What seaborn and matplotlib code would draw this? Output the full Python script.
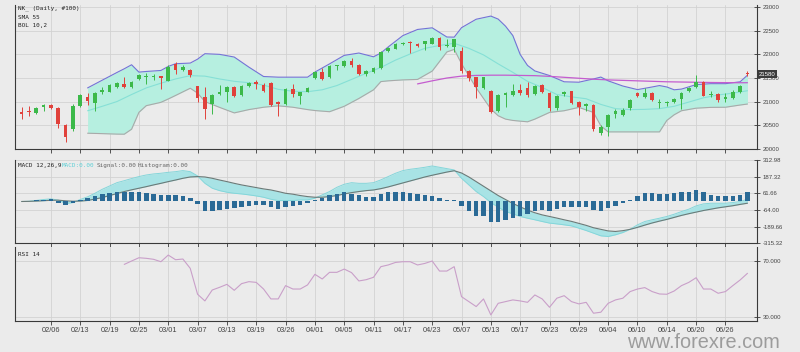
import numpy as np
import pandas as pd
import seaborn as sns
import matplotlib
matplotlib.use("Agg")
import matplotlib.pyplot as plt

# x tick labels (one every 4 bars)
date_labels = ["02/06", "02/13", "02/19", "02/25", "03/01", "03/07", "03/13", "03/19",
               "03/26", "04/01", "04/05", "04/11", "04/17", "04/23", "05/07", "05/13",
               "05/17", "05/23", "05/29", "06/04", "06/10", "06/14", "06/20", "06/26"]
date_pos = [4, 8, 12, 16, 20, 24, 28, 32, 36, 40, 44, 48,
            52, 56, 60, 64, 68, 72, 76, 80, 84, 88, 92, 96]

# daily candles
opens = [20785, 20792, 20756, 20891, 20927, 20863, 20507, 20414, 20899, 21105,
         20970, 21197, 21212, 21304, 21375, 21304, 21482, 21518, 21511, 21539,
         21446, 21788, 21660, 21674, 21326, 21105, 20948, 21162, 21212, 21319,
         21148, 21326, 21411, 21361, 21390, 20998, 20948, 21269, 21126, 21212,
         21496, 21625, 21518, 21753, 21746, 21860, 21781, 21589, 21625, 21710,
         22073, 22123, 22223, 22266, 22230, 22230, 22230, 22351, 22180, 22159,
         22066, 21639, 21518, 21290, 21226, 20806, 21141, 21148, 21254, 21283,
         21162, 21361, 21183, 20856, 21162, 21219, 20984, 20898, 20927, 20343,
         20471, 20735, 20713, 20856, 21176, 21105, 21176, 20970, 20970, 20984,
         21055, 21233, 21304, 21411, 21141, 21162, 21055, 21069, 21212, 21610]
highs = [20877, 20898, 20877, 20948, 20948, 20877, 20521, 20948, 21162, 21183,
         21197, 21304, 21375, 21425, 21518, 21447, 21589, 21610, 21589, 21553,
         21767, 21838, 21767, 21696, 21340, 21304, 21162, 21354, 21340, 21340,
         21361, 21411, 21461, 21390, 21411, 21020, 21290, 21375, 21212, 21304,
         21646, 21717, 21767, 21781, 21874, 21931, 21803, 21660, 21731, 22073,
         22159, 22244, 22266, 22287, 22244, 22287, 22372, 22372, 22322, 22337,
         22159, 21660, 21532, 21532, 21247, 21162, 21197, 21375, 21375, 21411,
         21361, 21375, 21197, 21148, 21233, 21233, 21020, 20970, 20948, 20500,
         20735, 20842, 20856, 21055, 21197, 21283, 21212, 21055, 21020, 21069,
         21212, 21304, 21568, 21432, 21233, 21183, 21183, 21254, 21361, 21639]
lows = [20628, 20699, 20735, 20806, 20841, 20450, 20144, 20379, 20877, 20927,
        20806, 21162, 21197, 21290, 21283, 21290, 21468, 21375, 21468, 21269,
        21432, 21589, 21639, 21518, 20990, 20628, 20735, 21141, 20984, 21091,
        21126, 21304, 21269, 21197, 20898, 20685, 20927, 21091, 20948, 21197,
        21482, 21461, 21504, 21660, 21731, 21731, 21568, 21553, 21610, 21696,
        22052, 22109, 22208, 22038, 22159, 22102, 22216, 22102, 22159, 22052,
        21610, 21447, 21069, 21269, 20756, 20770, 20877, 21126, 21148, 21091,
        21148, 21176, 20806, 20827, 21126, 20948, 20713, 20806, 20379, 20286,
        20272, 20642, 20699, 20827, 21091, 21077, 21020, 20856, 20898, 20970,
        20842, 21212, 21283, 21112, 21091, 20998, 20998, 21055, 21183, 21553]
closes = [20735, 20770, 20856, 20934, 20863, 20521, 20258, 20899, 21141, 21020,
          21183, 21247, 21354, 21404, 21304, 21425, 21568, 21553, 21539, 21496,
          21731, 21660, 21731, 21568, 21070, 20842, 21141, 21212, 21304, 21126,
          21340, 21397, 21375, 21219, 20927, 20941, 21269, 21162, 21197, 21290,
          21625, 21482, 21746, 21767, 21860, 21767, 21589, 21639, 21710, 22052,
          22144, 22230, 22251, 22251, 22173, 22280, 22351, 22159, 22208, 22322,
          21639, 21504, 21304, 21518, 20784, 21141, 21183, 21233, 21183, 21148,
          21340, 21197, 20856, 21126, 21212, 20970, 20877, 20948, 20414, 20471,
          20713, 20806, 20827, 21034, 21112, 21176, 21041, 20998, 20998, 21055,
          21183, 21283, 21411, 21126, 21162, 21034, 21091, 21197, 21340, 21580]

# Bollinger 10,2 band, read at these bars
band_idx = [9, 11, 13, 14, 15, 16, 17, 19, 20, 21, 23, 24, 25, 27, 29, 31, 33, 35, 37, 39,
            40, 42, 44, 46, 48, 49, 50, 52, 54, 56, 58, 59, 60, 62, 64, 65, 66, 67, 68, 69,
            70, 72, 74, 76, 78, 79, 80, 82, 84, 86, 87, 88, 89, 90, 92, 94, 96, 98, 99]
bol_upper = [21290, 21454, 21617, 21696, 21781, 21625, 21639, 21660, 21746, 21803,
             21817, 21900, 22016, 22002, 21945, 21731, 21532, 21518, 21518, 21518,
             21625, 21800, 21980, 22030, 21950, 22030, 22159, 22400, 22530, 22565,
             22370, 22367, 22568, 22747, 22814, 22750, 22600, 22400, 22000, 21767,
             21650, 21553, 21420, 21411, 21480, 21520, 21440, 21330, 21254, 21310,
             21340, 21310, 21250, 21265, 21360, 21380, 21380, 21420, 21560]
bol_lower = [20329, 20320, 20310, 20308, 20414, 20771, 20913, 20984, 21055, 21130,
             21283, 21180, 21000, 20877, 20760, 20830, 20880, 20910, 20880, 20830,
             20810, 20785, 20900, 21066, 21250, 21424, 21440, 21460, 21470, 21647,
             22053, 22107, 21804, 21291, 20842, 20699, 20628, 20600, 20585, 20571,
             20628, 20770, 20806, 20877, 20770, 20485, 20357, 20357, 20357, 20357,
             20357, 20600, 20720, 20806, 20860, 20877, 20880, 20927, 20948]
mid_idx = [9, 11, 13, 15, 17, 19, 21, 23, 25, 27, 29, 31, 33, 35, 37, 39, 41, 43, 45, 47,
           49, 51, 53, 55, 57, 59, 61, 63, 65, 67, 69, 71, 73, 75, 77, 79, 81, 83, 85, 87,
           89, 91, 93, 95, 97, 99]
bol_mid = [20805, 20900, 21000, 21150, 21290, 21390, 21480, 21550, 21540, 21480,
           21430, 21400, 21350, 21260, 21220, 21210, 21250, 21340, 21470, 21600,
           21724, 21880, 22010, 22130, 22190, 22237, 22130, 21990, 21800, 21620,
           21430, 21300, 21150, 21100, 21060, 20940, 20850, 20830, 20835, 20850,
           20900, 20990, 21080, 21140, 21180, 21230]

# SMA 55
sma_idx = [54, 56, 58, 60, 62, 64, 66, 68, 70, 72, 74, 76, 78, 80, 82, 84, 86, 88, 90, 92,
           94, 96, 98, 99]
sma55 = [21375, 21440, 21500, 21540, 21555, 21560, 21560, 21555, 21550, 21535,
         21515, 21495, 21475, 21460, 21450, 21440, 21430, 21420, 21415, 21410,
         21405, 21402, 21400, 21400]

# MACD 12,26,9
macd_line = [0, 2, 8, 15, 20, 10, -15, -8, 15, 35,
             62, 92, 117, 142, 157, 173, 188, 200, 208, 213,
             220, 225, 233, 225, 193, 137, 100, 82, 70, 62,
             57, 50, 42, 32, 17, 7, 7, 7, 12, 12,
             25, 50, 75, 107, 130, 142, 137, 137, 142, 163,
             188, 213, 233, 243, 250, 258, 268, 258, 248, 238,
             175, 125, 75, 37, -8, -43, -76, -93, -113, -126,
             -138, -151, -163, -169, -176, -184, -201, -219, -239, -259,
             -264, -251, -234, -209, -176, -151, -138, -126, -113, -96,
             -76, -58, -33, -18, -13, -13, -13, -8, 0, 17]
macd_signal = [0, 1, 3, 6, 9, 10, 5, 2, 3, 8,
               18, 30, 45, 60, 75, 88, 100, 112, 125, 137,
               150, 162, 175, 185, 188, 185, 175, 162, 150, 137,
               125, 115, 105, 95, 87, 75, 62, 55, 45, 37,
               32, 32, 37, 45, 57, 67, 75, 82, 87, 97,
               110, 125, 140, 155, 170, 185, 198, 210, 222, 232,
               215, 185, 150, 115, 80, 45, 15, -15, -40, -65,
               -85, -101, -113, -125, -138, -150, -165, -180, -198, -210,
               -222, -226, -220, -210, -195, -178, -162, -148, -135, -120,
               -105, -92, -80, -68, -58, -48, -40, -32, -22, -13]
macd_hist = [0, 5, 15, 15, 18, -12, -30, -15, 15, 28,
             43, 53, 65, 70, 70, 68, 68, 65, 55, 48,
             50, 48, 40, 23, -20, -68, -68, -63, -58, -50,
             -38, -33, -25, -25, -38, -58, -43, -33, -25, -13,
             15, 28, 48, 60, 68, 60, 48, 35, 35, 55,
             68, 68, 68, 65, 55, 48, 43, 28, 15, 12,
             -33, -75, -113, -113, -155, -155, -143, -125, -113, -93,
             -75, -63, -75, -58, -38, -38, -38, -38, -63, -70,
             -50, -33, -13, 12, 43, 63, 63, 55, 55, 63,
             68, 70, 83, 70, 50, 43, 38, 43, 50, 68]
macd_ticks = [-315.32, -189.66, -64.00, 61.66, 187.32, 312.98]

# RSI 14 (starts at bar 14)
rsi = [67.4, 69.8, 72.1, 71.7, 71.0, 69.3, 74.0, 70.7, 71.2, 64.6,
       46.3, 41.6, 49.3, 51.2, 53.3, 49.1, 53.8, 55.2, 54.7, 50.0,
       43.0, 43.0, 52.4, 50.0, 50.0, 52.9, 60.4, 57.1, 61.8, 61.8,
       64.1, 61.6, 55.7, 56.6, 58.3, 65.8, 67.0, 68.8, 69.3, 69.3,
       67.0, 68.1, 69.8, 62.7, 62.7, 65.8, 44.6, 41.1, 37.6, 43.0,
       31.7, 39.9, 41.1, 42.3, 41.6, 40.6, 45.8, 43.0, 37.1, 43.5,
       45.3, 41.1, 39.5, 40.6, 32.9, 33.6, 39.9, 42.3, 43.5, 48.2,
       50.0, 51.0, 48.2, 46.5, 46.3, 48.6, 52.4, 54.7, 58.0, 50.0,
       50.0, 47.0, 48.2, 52.4, 56.4, 61.1]
rsi_ticks = [30, 70]

bg = "#ebebeb"
sns.set_theme(style="white", rc={"axes.facecolor": bg, "figure.facecolor": bg})
plt.rcParams["font.family"] = ["Liberation Sans", "DejaVu Sans"]

df = pd.DataFrame({"open": opens, "high": highs, "low": lows, "close": closes})
df["idx"] = df.index
rsi_idx = list(range(14, 14 + len(rsi)))

fig = plt.figure(figsize=(8, 3.52), dpi=100)


def panel(top, bottom):
    # panel placed in pixel rows of the 800x352 picture
    return fig.add_axes([15 / 800, 1 - bottom / 352, 742 / 800, (bottom - top) / 352])


ax_p = panel(5, 149)
ax_m = panel(160, 243.3)
ax_r = panel(247, 321)

for ax in (ax_p, ax_m, ax_r):
    ax.set_facecolor(bg)
    ax.set_xlim(-0.9, 100.3)
    ax.grid(True, color="#d2d2d2", lw=0.6)
    ax.set_axisbelow(True)
    ax.spines["top"].set_visible(False)
    for s in ("left", "bottom", "right"):
        ax.spines[s].set_color("#3a3a3a")
        ax.spines[s].set_linewidth(0.8)
    ax.yaxis.tick_right()
    ax.tick_params(axis="y", direction="inout", length=5, width=0.6, labelsize=4.3,
                   labelcolor="#444444", color="#3a3a3a", pad=1.5, left=False, right=True)
    ax.tick_params(axis="x", direction="out", length=3, width=0.6, labelsize=5.3,
                   labelcolor="#444444", color="#3a3a3a", pad=1, bottom=True)
    ax.set_xticks(date_pos)

# --- price panel ---
rising = df["close"] >= df["open"]
colors = np.where(rising, "#3cb94a", "#e0413b")
ax_p.fill_between(band_idx, bol_lower, bol_upper, color="#b6efe0", lw=0, zorder=1)
sns.lineplot(x=band_idx, y=bol_upper, ax=ax_p, color="#7373d6", lw=0.8, zorder=2)
sns.lineplot(x=band_idx, y=bol_lower, ax=ax_p, color="#a9a9a9", lw=0.8, zorder=2)
sns.lineplot(x=mid_idx, y=bol_mid, ax=ax_p, color="#86e0d6", lw=0.8, zorder=2)
sns.lineplot(x=sma_idx, y=sma55, ax=ax_p, color="#c45ccf", lw=0.9, zorder=2)
ax_p.vlines(df["idx"], df["low"], df["high"], colors=colors, lw=0.7, zorder=3)
body = (df["close"] - df["open"]).abs().clip(lower=12)
ax_p.bar(df["idx"], body, bottom=df[["open", "close"]].min(axis=1), width=0.5,
         color=colors, lw=0, zorder=4)
ax_p.set_ylim(19994, 23049)
ax_p.set_yticks(list(range(20000, 23001, 500)))
ax_p.tick_params(axis="x", labelbottom=False)
ax_p.annotate(f"{closes[-1]}", xy=(1.0, closes[-1]), xycoords=("axes fraction", "data"),
              xytext=(1.5, 0), textcoords="offset points", ha="left", va="center",
              fontsize=4.3, color="white", annotation_clip=False, zorder=10,
              bbox=dict(boxstyle="square,pad=0.25", fc="#3c3c3c", ec="none"))

# --- MACD panel ---
ax_m.fill_between(df["idx"], macd_line, macd_signal, color="#a8e3e5", lw=0, zorder=1)
sns.lineplot(x=df["idx"], y=macd_line, ax=ax_m, color="#84d6da", lw=0.7, zorder=2)
sns.lineplot(x=df["idx"], y=macd_signal, ax=ax_m, color="#6b7a78", lw=0.8, zorder=2)
ax_m.bar(df["idx"], macd_hist, width=0.62, color="#2a6a96", lw=0, zorder=3)
ax_m.set_ylim(macd_ticks[0], macd_ticks[-1])
ax_m.set_yticks(macd_ticks)
ax_m.set_yticklabels([f"{v:.2f}" for v in macd_ticks])
ax_m.tick_params(axis="x", labelbottom=False)

# --- RSI panel ---
sns.lineplot(x=rsi_idx, y=rsi, ax=ax_r, color="#c99fc9", lw=0.8, zorder=2)
ax_r.set_ylim(27.4, 79.7)
ax_r.set_yticks(rsi_ticks)
ax_r.set_yticklabels([f"{v:.3f}" for v in rsi_ticks])
ax_r.set_xticklabels(date_labels)

for ax in (ax_p, ax_m, ax_r):
    ax.set_xlabel("")
    ax.set_ylabel("")

# panel captions
mono = "DejaVu Sans Mono"
fig.text(18 / 800, 1 - 8.3 / 352, "NK_ (Daily, #100)", family=mono, fontsize=4.3,
         color="#222222", va="center")
fig.text(18 / 800, 1 - 17.3 / 352, "SMA 55", family=mono, fontsize=4.3, color="#222222", va="center")
fig.text(18 / 800, 1 - 25.7 / 352, "BOL 10,2", family=mono, fontsize=4.3, color="#222222", va="center")
fig.text(17.7 / 800, 1 - 165.7 / 352, "MACD 12,26,9", family=mono, fontsize=4.3,
         color="#222222", va="center")
fig.text(61.7 / 800, 1 - 165.7 / 352, "MACD:0.00", family=mono, fontsize=4.3,
         color="#5fd0d6", va="center")
fig.text(96.7 / 800, 1 - 165.7 / 352, "Signal:0.00", family=mono, fontsize=4.3,
         color="#666666", va="center")
fig.text(137.3 / 800, 1 - 165.7 / 352, "Histogram:0.00", family=mono, fontsize=4.3,
         color="#666666", va="center")
fig.text(18 / 800, 1 - 254.3 / 352, "RSI 14", family=mono, fontsize=4.3, color="#222222", va="center")

# watermark
fig.text(627 / 800, 1 - 347.5 / 352, "www.forexre.com", family="Liberation Sans",
         fontsize=14.3, color="#9c9c9c", va="baseline")

fig.savefig("out.png", dpi=100, facecolor=bg)
